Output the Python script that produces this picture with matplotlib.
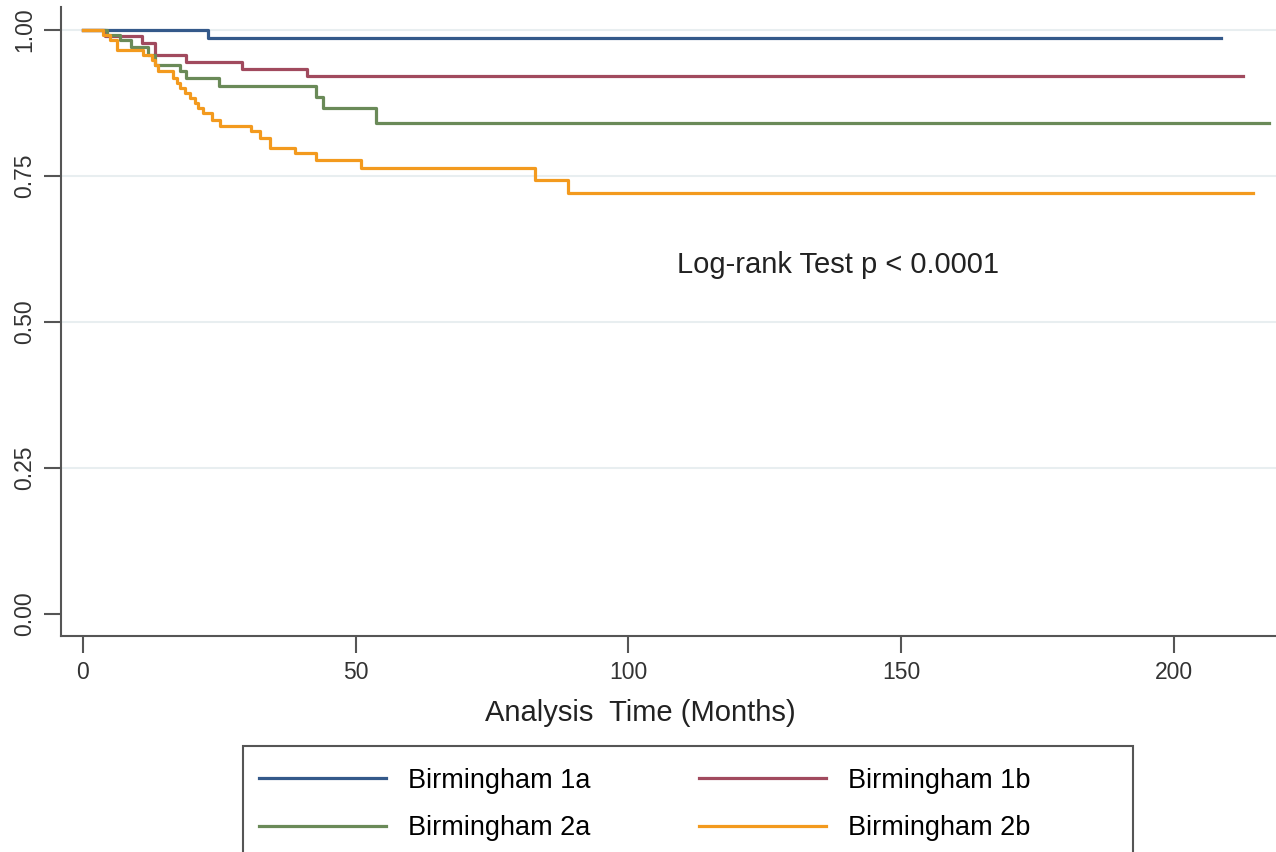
import matplotlib.pyplot as plt
from matplotlib.patches import Rectangle
import numpy as np

# Kaplan-Meier estimates (months, survival)
labels = ['Birmingham 1a', 'Birmingham 1b', 'Birmingham 2a', 'Birmingham 2b']
colors = ['#34598a', '#a14a5e', '#6a8a58', '#f39a1e']

t_1a = [0, 22.9]
s_1a = [1.0, 0.986]

t_1b = [0, 4.0, 10.8, 13.2, 19.0, 29.1, 41.0]
s_1b = [1.0, 0.989, 0.977, 0.957, 0.944, 0.933, 0.920]

t_2a = [0, 4.5, 6.8, 8.9, 12.0, 13.2, 17.8, 18.9, 25.0, 42.8, 44.1, 53.8]
s_2a = [1.0, 0.991, 0.983, 0.971, 0.957, 0.940, 0.929, 0.917, 0.903, 0.885, 0.866, 0.841]

t_2b = [0, 3.7, 5.0, 6.3, 11.0, 12.6, 13.2, 13.8, 16.5, 17.2, 17.8, 18.7, 19.6,
        20.5, 21.1, 22.1, 23.6, 25.1, 30.9, 32.4, 34.3, 38.9, 42.8, 51.0, 82.9, 89.0]
s_2b = [1.0, 0.991, 0.983, 0.966, 0.957, 0.949, 0.940, 0.929, 0.917, 0.909, 0.900,
        0.892, 0.883, 0.874, 0.866, 0.857, 0.846, 0.836, 0.826, 0.815, 0.798, 0.789,
        0.777, 0.763, 0.742, 0.721]

# last follow-up time of each group
end_times = [208.6, 212.7, 217.4, 214.5]

times = [t_1a, t_1b, t_2a, t_2b]
survs = [s_1a, s_1b, s_2a, s_2b]

plt.rcParams['font.family'] = ['Liberation Sans', 'DejaVu Sans']

fig = plt.figure(figsize=(12.76, 8.52), dpi=100)
ax = fig.add_axes([0.0478, 0.2535, 0.9522, 0.7383])

handles = []
for t, s, end, c, lab in zip(times, survs, end_times, colors, labels):
    tt = np.append(t, end)
    ss = np.append(s, s[-1])
    h, = ax.step(tt, ss, where='post', color=c, linewidth=2.3, label=lab)
    handles.append(h)

ax.set_xlim(-4, 218.7)
ax.set_ylim(-0.038, 1.039)
ax.set_xticks([0, 50, 100, 150, 200])
ax.set_yticks([0, 0.25, 0.5, 0.75, 1.0])
ax.set_yticklabels(['0.00', '0.25', '0.50', '0.75', '1.00'], rotation=90, va='center')
for y in [0.25, 0.5, 0.75, 1.0]:
    ax.axhline(y, color='#e8eef0', linewidth=1.5, zorder=0)

for side in ['top', 'right']:
    ax.spines[side].set_visible(False)
for side in ['left', 'bottom']:
    ax.spines[side].set_color('#555555')
    ax.spines[side].set_linewidth(1.5)
ax.tick_params(axis='both', colors='#555555', length=12, width=1.5,
               labelsize=16.5, labelcolor='#333333', pad=6)

ax.set_xlabel('Analysis  Time (Months)', fontsize=21, color='#222222')
ax.xaxis.set_label_coords(0.477, -0.10)
ax.text(138.4, 0.598, 'Log-rank Test p < 0.0001', fontsize=21, color='#222222',
        ha='center', va='center')

# legend rows: 1a | 1b on top, 2a | 2b below (column-major order)
order = [0, 2, 1, 3]
leg = fig.legend([handles[i] for i in order], [labels[i] for i in order],
                 loc='upper left', bbox_to_anchor=(0.186, 0.1244), ncol=2,
                 fontsize=19.5, frameon=False, handlelength=4.7,
                 handletextpad=0.8, columnspacing=4.0, borderpad=0.8,
                 labelspacing=0.8, borderaxespad=0)
for line in leg.get_lines():
    line.set_linewidth(2.3)

# Stata-style legend box, wider than its contents and cut by the figure edge
fig.patches.append(Rectangle((0.1904, -0.02), 0.6975, 0.1444, transform=fig.transFigure,
                             fill=False, edgecolor='#555555', linewidth=1.5))

fig.savefig('out.png', dpi=100)
